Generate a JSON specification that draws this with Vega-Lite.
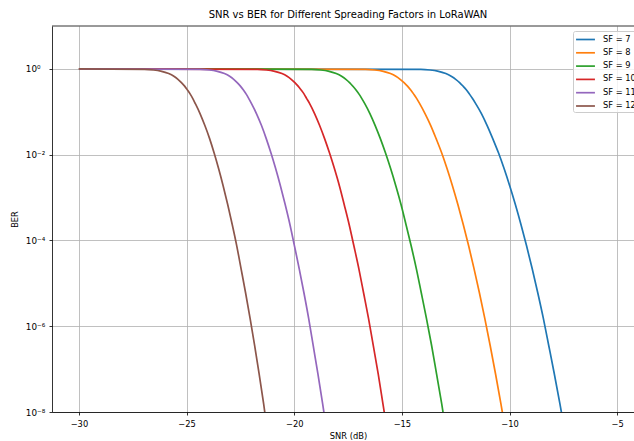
{
  "$schema": "https://vega.github.io/schema/vega-lite/v6.json",
  "width": 582,
  "height": 386,
  "autosize": {"type": "none"},
  "padding": {"left": 52, "top": 26, "right": 0, "bottom": 29},
  "background": "white",
  "title": {"text": "SNR vs BER for Different Spreading Factors in LoRaWAN", "fontSize": 10, "fontWeight": "normal", "font": "DejaVu Sans", "color": "black", "offset": 6, "dx": 5, "anchor": "middle"},
  "config": {
    "font": "DejaVu Sans",
    "view": {"stroke": null}
  },
  "data": {"values": [
    {"sf": "SF = 7", "snr": -30, "ber": 1},
    {"sf": "SF = 7", "snr": -14.12, "ber": 0.97744},
    {"sf": "SF = 7", "snr": -13.69, "ber": 0.94363},
    {"sf": "SF = 7", "snr": -13.34, "ber": 0.88754},
    {"sf": "SF = 7", "snr": -12.96, "ber": 0.7773},
    {"sf": "SF = 7", "snr": -12.71, "ber": 0.67137},
    {"sf": "SF = 7", "snr": -12.50, "ber": 0.57161},
    {"sf": "SF = 7", "snr": -12.32, "ber": 0.4795},
    {"sf": "SF = 7", "snr": -12.16, "ber": 0.39614},
    {"sf": "SF = 7", "snr": -12.00, "ber": 0.3222},
    {"sf": "SF = 7", "snr": -11.86, "ber": 0.2579},
    {"sf": "SF = 7", "snr": -11.72, "ber": 0.20309},
    {"sf": "SF = 7", "snr": -11.58, "ber": 0.1573},
    {"sf": "SF = 7", "snr": -11.30, "ber": 0.089686},
    {"sf": "SF = 7", "snr": -11.04, "ber": 0.047715},
    {"sf": "SF = 7", "snr": -10.78, "ber": 0.023652},
    {"sf": "SF = 7", "snr": -10.51, "ber": 0.010909},
    {"sf": "SF = 7", "snr": -10.25, "ber": 0.0046777},
    {"sf": "SF = 7", "snr": -9.99, "ber": 0.0018628},
    {"sf": "SF = 7", "snr": -9.73, "ber": 0.00068851},
    {"sf": "SF = 7", "snr": -9.47, "ber": 0.00023603},
    {"sf": "SF = 7", "snr": -9.21, "ber": 7.5013e-5},
    {"sf": "SF = 7", "snr": -8.95, "ber": 2.209e-5},
    {"sf": "SF = 7", "snr": -8.69, "ber": 6.0258e-6},
    {"sf": "SF = 7", "snr": -8.43, "ber": 1.522e-6},
    {"sf": "SF = 7", "snr": -8.18, "ber": 3.5586e-7},
    {"sf": "SF = 7", "snr": -7.92, "ber": 7.7004e-8},
    {"sf": "SF = 7", "snr": -7.66, "ber": 1.5417e-8},
    {"sf": "SF = 7", "snr": -7.40, "ber": 2.8554e-9},

    {"sf": "SF = 8", "snr": -30, "ber": 1},
    {"sf": "SF = 8", "snr": -16.69, "ber": 0.97744},
    {"sf": "SF = 8", "snr": -16.26, "ber": 0.94363},
    {"sf": "SF = 8", "snr": -15.91, "ber": 0.88754},
    {"sf": "SF = 8", "snr": -15.53, "ber": 0.7773},
    {"sf": "SF = 8", "snr": -15.28, "ber": 0.67137},
    {"sf": "SF = 8", "snr": -15.08, "ber": 0.57161},
    {"sf": "SF = 8", "snr": -14.90, "ber": 0.4795},
    {"sf": "SF = 8", "snr": -14.74, "ber": 0.39614},
    {"sf": "SF = 8", "snr": -14.59, "ber": 0.3222},
    {"sf": "SF = 8", "snr": -14.45, "ber": 0.2579},
    {"sf": "SF = 8", "snr": -14.31, "ber": 0.20309},
    {"sf": "SF = 8", "snr": -14.18, "ber": 0.1573},
    {"sf": "SF = 8", "snr": -13.92, "ber": 0.089686},
    {"sf": "SF = 8", "snr": -13.66, "ber": 0.047715},
    {"sf": "SF = 8", "snr": -13.41, "ber": 0.023652},
    {"sf": "SF = 8", "snr": -13.15, "ber": 0.010909},
    {"sf": "SF = 8", "snr": -12.90, "ber": 0.0046777},
    {"sf": "SF = 8", "snr": -12.65, "ber": 0.0018628},
    {"sf": "SF = 8", "snr": -12.40, "ber": 0.00068851},
    {"sf": "SF = 8", "snr": -12.15, "ber": 0.00023603},
    {"sf": "SF = 8", "snr": -11.90, "ber": 7.5013e-5},
    {"sf": "SF = 8", "snr": -11.65, "ber": 2.209e-5},
    {"sf": "SF = 8", "snr": -11.40, "ber": 6.0258e-6},
    {"sf": "SF = 8", "snr": -11.15, "ber": 1.522e-6},
    {"sf": "SF = 8", "snr": -10.90, "ber": 3.5586e-7},
    {"sf": "SF = 8", "snr": -10.65, "ber": 7.7004e-8},
    {"sf": "SF = 8", "snr": -10.40, "ber": 1.5417e-8},
    {"sf": "SF = 8", "snr": -10.15, "ber": 2.8554e-9},

    {"sf": "SF = 9", "snr": -30, "ber": 1},
    {"sf": "SF = 9", "snr": -19.19, "ber": 0.97744},
    {"sf": "SF = 9", "snr": -18.76, "ber": 0.94363},
    {"sf": "SF = 9", "snr": -18.42, "ber": 0.88754},
    {"sf": "SF = 9", "snr": -18.05, "ber": 0.7773},
    {"sf": "SF = 9", "snr": -17.80, "ber": 0.67137},
    {"sf": "SF = 9", "snr": -17.60, "ber": 0.57161},
    {"sf": "SF = 9", "snr": -17.43, "ber": 0.4795},
    {"sf": "SF = 9", "snr": -17.28, "ber": 0.39614},
    {"sf": "SF = 9", "snr": -17.13, "ber": 0.3222},
    {"sf": "SF = 9", "snr": -16.99, "ber": 0.2579},
    {"sf": "SF = 9", "snr": -16.86, "ber": 0.20309},
    {"sf": "SF = 9", "snr": -16.73, "ber": 0.1573},
    {"sf": "SF = 9", "snr": -16.48, "ber": 0.089686},
    {"sf": "SF = 9", "snr": -16.24, "ber": 0.047715},
    {"sf": "SF = 9", "snr": -16.00, "ber": 0.023652},
    {"sf": "SF = 9", "snr": -15.76, "ber": 0.010909},
    {"sf": "SF = 9", "snr": -15.52, "ber": 0.0046777},
    {"sf": "SF = 9", "snr": -15.28, "ber": 0.0018628},
    {"sf": "SF = 9", "snr": -15.04, "ber": 0.00068851},
    {"sf": "SF = 9", "snr": -14.81, "ber": 0.00023603},
    {"sf": "SF = 9", "snr": -14.57, "ber": 7.5013e-5},
    {"sf": "SF = 9", "snr": -14.33, "ber": 2.209e-5},
    {"sf": "SF = 9", "snr": -14.10, "ber": 6.0258e-6},
    {"sf": "SF = 9", "snr": -13.86, "ber": 1.522e-6},
    {"sf": "SF = 9", "snr": -13.62, "ber": 3.5586e-7},
    {"sf": "SF = 9", "snr": -13.39, "ber": 7.7004e-8},
    {"sf": "SF = 9", "snr": -13.15, "ber": 1.5417e-8},
    {"sf": "SF = 9", "snr": -12.92, "ber": 2.8554e-9},

    {"sf": "SF = 10", "snr": -30, "ber": 1},
    {"sf": "SF = 10", "snr": -21.72, "ber": 0.97744},
    {"sf": "SF = 10", "snr": -21.29, "ber": 0.94363},
    {"sf": "SF = 10", "snr": -20.95, "ber": 0.88754},
    {"sf": "SF = 10", "snr": -20.57, "ber": 0.7773},
    {"sf": "SF = 10", "snr": -20.33, "ber": 0.67137},
    {"sf": "SF = 10", "snr": -20.14, "ber": 0.57161},
    {"sf": "SF = 10", "snr": -19.97, "ber": 0.4795},
    {"sf": "SF = 10", "snr": -19.82, "ber": 0.39614},
    {"sf": "SF = 10", "snr": -19.68, "ber": 0.3222},
    {"sf": "SF = 10", "snr": -19.54, "ber": 0.2579},
    {"sf": "SF = 10", "snr": -19.42, "ber": 0.20309},
    {"sf": "SF = 10", "snr": -19.29, "ber": 0.1573},
    {"sf": "SF = 10", "snr": -19.05, "ber": 0.089686},
    {"sf": "SF = 10", "snr": -18.82, "ber": 0.047715},
    {"sf": "SF = 10", "snr": -18.59, "ber": 0.023652},
    {"sf": "SF = 10", "snr": -18.36, "ber": 0.010909},
    {"sf": "SF = 10", "snr": -18.13, "ber": 0.0046777},
    {"sf": "SF = 10", "snr": -17.90, "ber": 0.0018628},
    {"sf": "SF = 10", "snr": -17.68, "ber": 0.00068851},
    {"sf": "SF = 10", "snr": -17.45, "ber": 0.00023603},
    {"sf": "SF = 10", "snr": -17.23, "ber": 7.5013e-5},
    {"sf": "SF = 10", "snr": -17.00, "ber": 2.209e-5},
    {"sf": "SF = 10", "snr": -16.78, "ber": 6.0258e-6},
    {"sf": "SF = 10", "snr": -16.55, "ber": 1.522e-6},
    {"sf": "SF = 10", "snr": -16.33, "ber": 3.5586e-7},
    {"sf": "SF = 10", "snr": -16.10, "ber": 7.7004e-8},
    {"sf": "SF = 10", "snr": -15.88, "ber": 1.5417e-8},
    {"sf": "SF = 10", "snr": -15.65, "ber": 2.8554e-9},

    {"sf": "SF = 11", "snr": -30, "ber": 1},
    {"sf": "SF = 11", "snr": -24.38, "ber": 0.97744},
    {"sf": "SF = 11", "snr": -23.95, "ber": 0.94363},
    {"sf": "SF = 11", "snr": -23.61, "ber": 0.88754},
    {"sf": "SF = 11", "snr": -23.24, "ber": 0.7773},
    {"sf": "SF = 11", "snr": -23.00, "ber": 0.67137},
    {"sf": "SF = 11", "snr": -22.81, "ber": 0.57161},
    {"sf": "SF = 11", "snr": -22.65, "ber": 0.4795},
    {"sf": "SF = 11", "snr": -22.50, "ber": 0.39614},
    {"sf": "SF = 11", "snr": -22.36, "ber": 0.3222},
    {"sf": "SF = 11", "snr": -22.23, "ber": 0.2579},
    {"sf": "SF = 11", "snr": -22.11, "ber": 0.20309},
    {"sf": "SF = 11", "snr": -21.99, "ber": 0.1573},
    {"sf": "SF = 11", "snr": -21.75, "ber": 0.089686},
    {"sf": "SF = 11", "snr": -21.52, "ber": 0.047715},
    {"sf": "SF = 11", "snr": -21.30, "ber": 0.023652},
    {"sf": "SF = 11", "snr": -21.08, "ber": 0.010909},
    {"sf": "SF = 11", "snr": -20.86, "ber": 0.0046777},
    {"sf": "SF = 11", "snr": -20.64, "ber": 0.0018628},
    {"sf": "SF = 11", "snr": -20.42, "ber": 0.00068851},
    {"sf": "SF = 11", "snr": -20.20, "ber": 0.00023603},
    {"sf": "SF = 11", "snr": -19.99, "ber": 7.5013e-5},
    {"sf": "SF = 11", "snr": -19.77, "ber": 2.209e-5},
    {"sf": "SF = 11", "snr": -19.55, "ber": 6.0258e-6},
    {"sf": "SF = 11", "snr": -19.33, "ber": 1.522e-6},
    {"sf": "SF = 11", "snr": -19.12, "ber": 3.5586e-7},
    {"sf": "SF = 11", "snr": -18.90, "ber": 7.7004e-8},
    {"sf": "SF = 11", "snr": -18.68, "ber": 1.5417e-8},
    {"sf": "SF = 11", "snr": -18.46, "ber": 2.8554e-9},

    {"sf": "SF = 12", "snr": -30, "ber": 1},
    {"sf": "SF = 12", "snr": -26.96, "ber": 0.97744},
    {"sf": "SF = 12", "snr": -26.53, "ber": 0.94363},
    {"sf": "SF = 12", "snr": -26.20, "ber": 0.88754},
    {"sf": "SF = 12", "snr": -25.83, "ber": 0.7773},
    {"sf": "SF = 12", "snr": -25.59, "ber": 0.67137},
    {"sf": "SF = 12", "snr": -25.40, "ber": 0.57161},
    {"sf": "SF = 12", "snr": -25.24, "ber": 0.4795},
    {"sf": "SF = 12", "snr": -25.09, "ber": 0.39614},
    {"sf": "SF = 12", "snr": -24.96, "ber": 0.3222},
    {"sf": "SF = 12", "snr": -24.83, "ber": 0.2579},
    {"sf": "SF = 12", "snr": -24.71, "ber": 0.20309},
    {"sf": "SF = 12", "snr": -24.60, "ber": 0.1573},
    {"sf": "SF = 12", "snr": -24.37, "ber": 0.089686},
    {"sf": "SF = 12", "snr": -24.15, "ber": 0.047715},
    {"sf": "SF = 12", "snr": -23.93, "ber": 0.023652},
    {"sf": "SF = 12", "snr": -23.72, "ber": 0.010909},
    {"sf": "SF = 12", "snr": -23.51, "ber": 0.0046777},
    {"sf": "SF = 12", "snr": -23.30, "ber": 0.0018628},
    {"sf": "SF = 12", "snr": -23.09, "ber": 0.00068851},
    {"sf": "SF = 12", "snr": -22.88, "ber": 0.00023603},
    {"sf": "SF = 12", "snr": -22.67, "ber": 7.5013e-5},
    {"sf": "SF = 12", "snr": -22.47, "ber": 2.209e-5},
    {"sf": "SF = 12", "snr": -22.26, "ber": 6.0258e-6},
    {"sf": "SF = 12", "snr": -22.05, "ber": 1.522e-6},
    {"sf": "SF = 12", "snr": -21.84, "ber": 3.5586e-7},
    {"sf": "SF = 12", "snr": -21.63, "ber": 7.7004e-8},
    {"sf": "SF = 12", "snr": -21.42, "ber": 1.5417e-8},
    {"sf": "SF = 12", "snr": -21.22, "ber": 2.8554e-9}
  ]},
  "layer": [
    {
      "mark": {"type": "line", "clip": true, "strokeWidth": 1.7, "interpolate": "monotone"},
      "encoding": {
        "x": {
          "field": "snr", "type": "quantitative",
          "scale": {"domain": [-31.25, -4.22], "nice": false, "zero": false},
          "axis": {
            "values": [-30, -25, -20, -15, -10, -5],
            "title": "SNR (dB)",
            "grid": true, "gridColor": "#b0b0b0", "gridWidth": 0.8,
            "domainColor": "black", "domainWidth": 0.8,
            "tickColor": "black", "tickSize": 3, "tickWidth": 0.8,
            "labelFontSize": 8.3, "labelColor": "black", "labelPadding": 4.5, "labelFlush": false,
            "titleFontSize": 8.3, "titleFontWeight": "normal", "titleColor": "black", "titlePadding": 3.5,
            "titleX": 296
          }
        },
        "y": {
          "field": "ber", "type": "quantitative",
          "scale": {"type": "log", "domain": [1e-8, 10], "nice": false},
          "axis": {
            "values": [1e-8, 1e-6, 1e-4, 0.01, 1],
            "labelExpr": "datum.value >= 0.5 ? '10⁰' : datum.value >= 0.005 ? '10⁻²' : datum.value >= 0.00005 ? '10⁻⁴' : datum.value >= 0.0000005 ? '10⁻⁶' : '10⁻⁸'",
            "title": "BER",
            "grid": true, "gridColor": "#b0b0b0", "gridWidth": 0.8,
            "domainColor": "black", "domainWidth": 0.8,
            "tickColor": "black", "tickSize": 3, "tickWidth": 0.8,
            "labelFontSize": 8.8, "labelColor": "black", "labelAlign": "left", "labelPadding": 23.7, "labelFlush": false,
            "titleFontSize": 8.3, "titleFontWeight": "normal", "titleColor": "black", "titlePadding": 6
          }
        },
        "color": {
          "field": "sf", "type": "nominal",
          "scale": {
            "domain": ["SF = 7", "SF = 8", "SF = 9", "SF = 10", "SF = 11", "SF = 12"],
            "range": ["#1f77b4", "#ff7f0e", "#2ca02c", "#d62728", "#9467bd", "#8c564b"]
          },
          "legend": {
            "orient": "none", "legendX": 521, "legendY": 5,
            "title": null,
            "symbolType": "M-1.8,0H1.8", "symbolSize": 110, "symbolStrokeWidth": 1.7,
            "symbolOffset": 4,
            "labelFontSize": 8.3, "labelColor": "black", "labelOffset": 11,
            "rowPadding": 3.3, "padding": 2,
            "fillColor": "rgba(255,255,255,0.8)", "strokeColor": "#cccccc", "cornerRadius": 2
          }
        }
      }
    },
    {
      "data": {"values": [{}]},
      "mark": {"type": "rule", "color": "black", "strokeWidth": 0.8},
      "encoding": {"y": {"datum": 10}}
    }
  ]
}
